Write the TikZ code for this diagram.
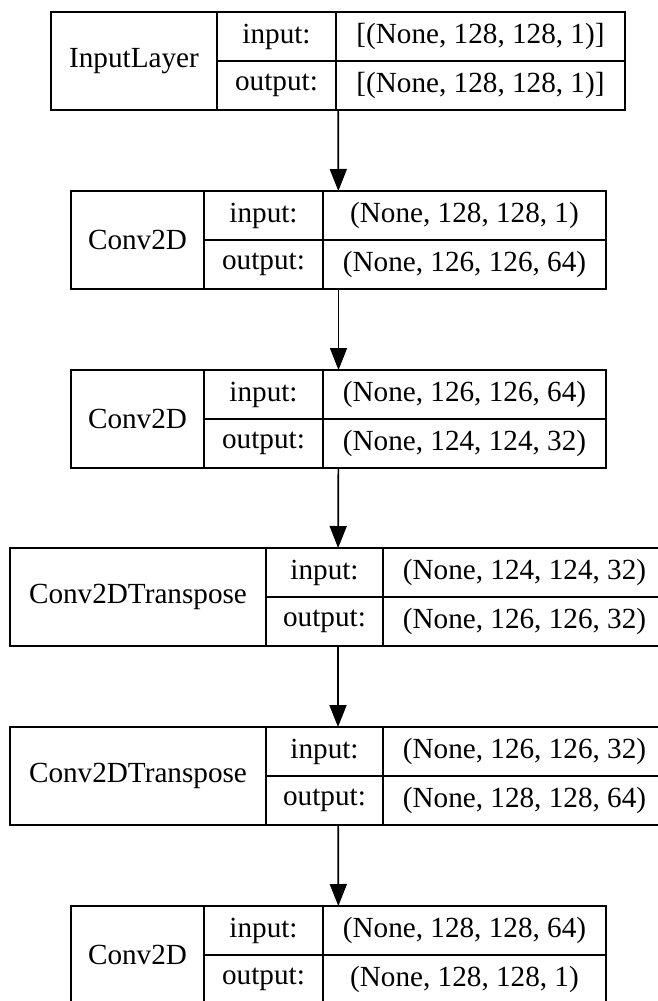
\documentclass[tikz,border=0pt]{standalone}
\usepackage{fontspec}
\setmainfont{Liberation Serif}
\usetikzlibrary{arrows.meta,positioning,fit}
\tikzset{
  cell/.style={draw=black, line width=1.6bp, rectangle, inner sep=0pt, outer sep=0pt, anchor=north west, align=center, font=\fontsize{29.3pt}{34pt}\selectfont},
  wrap/.style={inner sep=0pt, outer sep=0pt, rectangle},
  flow/.style={draw=black, line width=1.7bp, -{Triangle[length=22bp,width=17bp]}}
}
% #1 name, #2 L, #3 d1, #4 d2, #5 R, #6 T, #7 label, #8 in value, #9 out value
\newcommand{\kerasbox}[9]{%
  \node[cell, minimum width={#3bp-#2bp}, minimum height=98bp] (#1-lab) at (#2,#6) {#7};
  \node[cell, minimum width={#4bp-#3bp}, minimum height=49bp] (#1-in) at (#3,#6) {input:};
  \node[cell, minimum width={#4bp-#3bp}, minimum height=49bp] (#1-out) at (#3,#6+49) {output:};
  \node[cell, minimum width={#5bp-#4bp}, minimum height=49bp] (#1-inv) at (#4,#6) {#8};
  \node[cell, minimum width={#5bp-#4bp}, minimum height=49bp] (#1-outv) at (#4,#6+49) {#9};
  \node[wrap, fit=(#1-lab)(#1-outv)] (#1) {};
}
\begin{document}
\begin{tikzpicture}[x=1bp,y=-1bp]
\useasboundingbox[fill=white] (0,0) rectangle (658,1001);
\kerasbox{b1}{51}{217}{336}{625}{12}{InputLayer}{[(None, 128, 128, 1)]}{[(None, 128, 128, 1)]}
\kerasbox{b2}{71}{204}{323}{606}{191}{Conv2D}{(None, 128, 128, 1)}{(None, 126, 126, 64)}
\kerasbox{b3}{71}{204}{323}{606}{370}{Conv2D}{(None, 126, 126, 64)}{(None, 124, 124, 32)}
\kerasbox{b4}{10}{266}{383}{666}{548}{Conv2DTranspose}{(None, 124, 124, 32)}{(None, 126, 126, 32)}
\kerasbox{b5}{10}{266}{383}{666}{727}{Conv2DTranspose}{(None, 126, 126, 32)}{(None, 128, 128, 64)}
\kerasbox{b6}{71}{204}{323}{606}{906}{Conv2D}{(None, 128, 128, 64)}{(None, 128, 128, 1)}
\draw[flow] (b1) -- (b2);
\draw[flow] (b2) -- (b3);
\draw[flow] (b3) -- (b4);
\draw[flow] (b4) -- (b5);
\draw[flow] (b5) -- (b6);
\end{tikzpicture}
\end{document}
